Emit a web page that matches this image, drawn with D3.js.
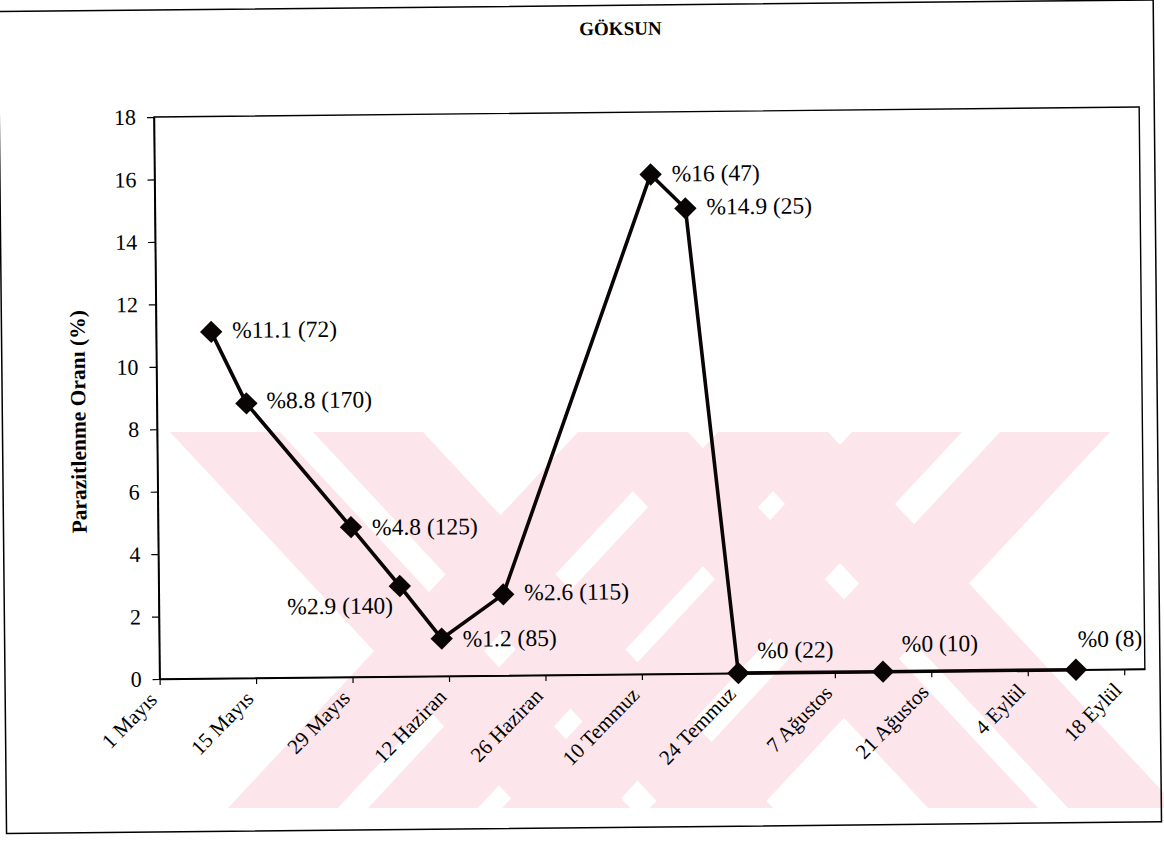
<!DOCTYPE html>
<html>
<head>
<meta charset="utf-8">
<script src="https://cdn.jsdelivr.net/npm/d3@7"></script>
<style>
  body { margin: 0; background: #fff; }
  svg { display: block; }
  text { font-family: "Liberation Serif", "Times New Roman", serif; fill: #000; }
</style>
</head>
<body>
<svg id="chart" width="1164" height="845"></svg>
<script>
// ---- data ----
const chartTitle = "GÖKSUN";
const yAxisTitle = "Parazitlenme Oranı (%)";
const sampleDates = ["2000-05-09", "2000-05-14", "2000-05-29", "2000-06-05", "2000-06-11", "2000-06-20",
                     "2000-07-12", "2000-07-17", "2000-07-24", "2000-08-14", "2000-09-11"];
const parasitism = [11.1, 8.8, 4.8, 2.9, 1.2, 2.6, 16, 14.9, 0, 0, 0];
const sampleSizes = [72, 170, 125, 140, 85, 115, 47, 25, 22, 10, 8];
const tickDates = ["2000-05-01", "2000-05-15", "2000-05-29", "2000-06-12", "2000-06-26", "2000-07-10",
                   "2000-07-24", "2000-08-07", "2000-08-21", "2000-09-04", "2000-09-18"];
const tickLabels = ["1 Mayıs", "15 Mayıs", "29 Mayıs", "12 Haziran", "26 Haziran", "10 Temmuz",
                    "24 Temmuz", "7 Ağustos", "21 Ağustos", "4 Eylül", "18 Eylül"];
const yTickValues = [0, 2, 4, 6, 8, 10, 12, 14, 16, 18];
const xDomain = ["2000-05-01", "2000-09-21"];
const yDomain = [0, 18];

// ---- layout ----
const parseDate = d3.utcParse("%Y-%m-%d");
const plot = { left: 159.6, top: 117, width: 985.3, height: 562 };
plot.right = plot.left + plot.width;
plot.bottom = plot.top + plot.height;
const tilt = -0.58; // slight page tilt, degrees

// label placement relative to each marker: [dx, dy, anchor]
const labelPlacement = [
  [21, -2, "start"], [20, -3, "start"], [21, 0, "start"], [-7, 19, "end"],
  [21, 0, "start"], [21, -2, "start"], [21, -1, "start"], [21, -2, "start"],
  [19, -23, "start"], [19, -28, "start"], [2, -31, "start"]
];

const svg = d3.select("#chart");

// backdrop band pattern (pale pink diagonal stripes)
const bandTop = 432, bandBottom = 808, bandRun = 350, bandWidth = 110;
const fallingBands = [170, 313, 578, 718];   // top-left x of "\" stripes
const risingBands = [228, 368, 502, 650];    // bottom-left x of "/" stripes
const backdrop = svg.append("g").attr("fill", "#fce6eb");
fallingBands.forEach(t => {
  backdrop.append("polygon").attr("points", [
    [t, bandTop], [t + bandWidth, bandTop],
    [t + bandWidth + bandRun, bandBottom], [t + bandRun, bandBottom]
  ].map(p => p.join(",")).join(" "));
});
risingBands.forEach(b => {
  backdrop.append("polygon").attr("points", [
    [b, bandBottom], [b + bandWidth, bandBottom],
    [b + bandWidth + bandRun, bandTop], [b + bandRun, bandTop]
  ].map(p => p.join(",")).join(" "));
});

const g = svg.append("g")
  .attr("transform", `rotate(${tilt}, ${plot.left}, ${plot.bottom})`);

// outer chart frame
g.append("rect")
  .attr("x", 5).attr("y", 10).attr("width", 1155).attr("height", 822)
  .attr("fill", "none").attr("stroke", "#000").attr("stroke-width", 1.5);

// title
g.append("text")
  .attr("x", 627).attr("y", 33).attr("dy", "0.35em")
  .attr("text-anchor", "middle")
  .style("font-size", "19px").style("font-weight", "bold")
  .text(chartTitle);

// scales
const x = d3.scaleUtc().domain(xDomain.map(parseDate)).range([plot.left, plot.right]);
const y = d3.scaleLinear().domain(yDomain).range([plot.bottom, plot.top]);

// plot area border
g.append("rect")
  .attr("x", plot.left).attr("y", plot.top)
  .attr("width", plot.width).attr("height", plot.height)
  .attr("fill", "none").attr("stroke", "#000").attr("stroke-width", 1.4);

// y axis
const yAxis = g.append("g")
  .attr("transform", `translate(${plot.left},0)`)
  .call(d3.axisLeft(y).tickValues(yTickValues).tickSize(7).tickSizeOuter(0).tickPadding(11));
yAxis.selectAll("text").style("font-size", "22px");
yAxis.select(".domain").attr("stroke-width", 1.6);
yAxis.selectAll(".tick line").attr("stroke-width", 1.2);

// x axis
const xAxis = g.append("g")
  .attr("transform", `translate(0,${plot.bottom})`)
  .call(d3.axisBottom(x)
    .tickValues(tickDates.map(parseDate))
    .tickFormat((d, i) => tickLabels[i])
    .tickSize(6).tickSizeOuter(0));
xAxis.select(".domain").attr("stroke-width", 1.6);
xAxis.selectAll(".tick line").attr("stroke-width", 1.2);
xAxis.selectAll(".tick text")
  .attr("x", -2).attr("y", 22).attr("dy", 0)
  .attr("text-anchor", "end")
  .attr("transform", "rotate(-45, -2, 22)")
  .style("font-size", "21px");

// y axis title
g.append("text")
  .attr("transform", "translate(80.6,421) rotate(-90)")
  .attr("dy", "0.35em")
  .attr("text-anchor", "middle")
  .style("font-size", "21.5px").style("font-weight", "bold")
  .text(yAxisTitle);

// series
const points = sampleDates.map((d, i) => ({
  date: parseDate(d), value: parasitism[i], n: sampleSizes[i], place: labelPlacement[i]
}));

g.append("path")
  .datum(points)
  .attr("fill", "none").attr("stroke", "#0a0505").attr("stroke-width", 3.6)
  .attr("stroke-linejoin", "round")
  .attr("d", d3.line().x(d => x(d.date)).y(d => y(d.value)));

g.selectAll(".marker")
  .data(points)
  .join("path")
  .attr("class", "marker")
  .attr("d", d3.symbol(d3.symbolSquare, 250))
  .attr("transform", d => `translate(${x(d.date)},${y(d.value)}) rotate(45)`)
  .attr("fill", "#0a0505");

g.selectAll(".value-label")
  .data(points)
  .join("text")
  .attr("class", "value-label")
  .attr("x", d => x(d.date) + d.place[0])
  .attr("y", d => y(d.value) + d.place[1])
  .attr("dy", "0.35em")
  .attr("text-anchor", d => d.place[2])
  .style("font-size", "23.5px")
  .text(d => `%${d.value} (${d.n})`);
</script>
</body>
</html>
